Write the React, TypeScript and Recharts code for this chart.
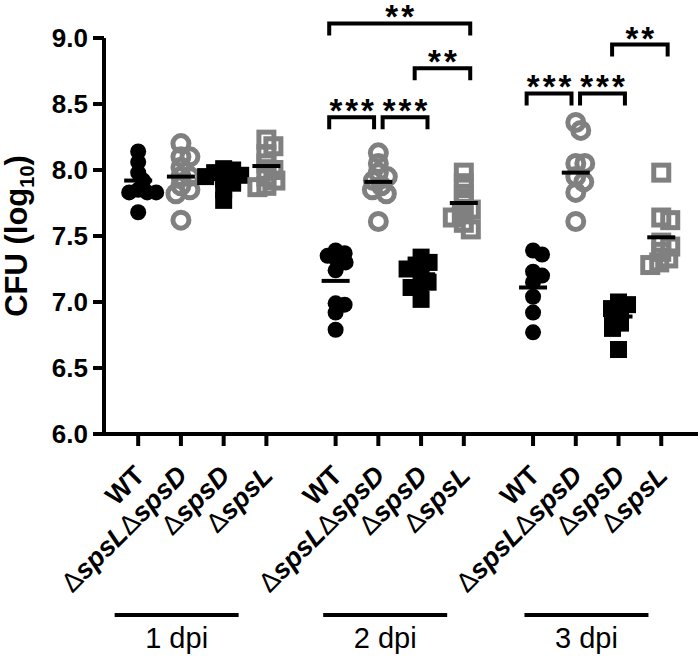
import React from 'react';
import { ScatterChart, Scatter, XAxis, YAxis, ReferenceLine, ReferenceDot } from 'recharts';

// ---------- data ----------
const strains = ['WT', 'ΔspsLΔspsD', 'ΔspsD', 'ΔspsL'];
const timepoints = ['1 dpi', '2 dpi', '3 dpi'];
const yTicks = [6.0, 6.5, 7.0, 7.5, 8.0, 8.5, 9.0];

// CFU (log10) per strain, one list per time point
const wtValues = [
  [8.14, 8.06, 7.98, 7.92, 7.85, 7.83, 7.83, 7.83, 7.68],
  [7.39, 7.37, 7.35, 7.32, 7.30, 7.24, 6.99, 6.98, 6.92, 6.79],
  [7.39, 7.36, 7.23, 7.20, 7.15, 7.04, 6.92, 6.77],
];
const dkoValues = [
  [8.20, 8.10, 8.10, 8.02, 7.95, 7.95, 7.88, 7.85, 7.82, 7.62],
  [8.13, 8.05, 7.98, 7.95, 7.92, 7.88, 7.85, 7.82, 7.61],
  [8.36, 8.30, 8.05, 8.05, 7.95, 7.91, 7.83, 7.61],
];
const spsDValues = [
  [8.01, 8.00, 7.98, 7.96, 7.95, 7.93, 7.90, 7.85, 7.77],
  [7.34, 7.30, 7.28, 7.25, 7.20, 7.15, 7.11, 7.11, 7.02],
  [7.00, 6.98, 6.95, 6.92, 6.88, 6.84, 6.80, 6.64],
];
const spsLValues = [
  [8.23, 8.18, 8.12, 8.05, 8.00, 7.95, 7.92, 7.88, 7.87],
  [7.98, 7.90, 7.82, 7.75, 7.70, 7.67, 7.64, 7.60, 7.55],
  [7.98, 7.64, 7.62, 7.45, 7.42, 7.38, 7.33, 7.30, 7.28],
];

// group means (horizontal bars)
const wtMeans = [7.92, 7.16, 7.11];
const dkoMeans = [7.95, 7.91, 7.98];
const spsDMeans = [7.94, 7.21, 6.89];
const spsLMeans = [8.03, 7.75, 7.49];

// significance comparisons: time point, strain indices, bracket level, label
const compGroup = [1, 1, 1, 1, 2, 2, 2];
const compFrom = [0, 1, 2, 0, 0, 1, 2];
const compTo = [1, 2, 3, 3, 1, 2, 3];
const compLevel = [8.40, 8.40, 8.77, 9.11, 8.58, 8.58, 8.95];
const compLabel = ['***', '***', '**', '**', '***', '***', '**'];

// ---------- layout constants ----------
const FONT = '"Liberation Sans", Arial, Helvetica, sans-serif';
const GREY = '#808080';
const W = 700;
const H = 661;
const GROUP_STEP = 4.62;
const X_DOMAIN: [number, number] = [-0.8, 13.1];
const PLOT_LEFT = 104;
const PLOT_RIGHT = 698;
const PLOT_TOP = 38;
const PLOT_BOTTOM = 434;
const PX_PER_X = (PLOT_RIGHT - PLOT_LEFT) / (X_DOMAIN[1] - X_DOMAIN[0]);
const PX_PER_Y = (PLOT_BOTTOM - PLOT_TOP) / (9 - 6);
const groupLabelX = [0.9, 5.78, 10.49];

const valuesByStrain = [wtValues, dkoValues, spsDValues, spsLValues];
const meansByStrain = [wtMeans, dkoMeans, spsDMeans, spsLMeans];

const pos = (g: number, s: number) => g * GROUP_STEP + s;
const tickPositions = timepoints.flatMap((_, g) => strains.map((__, s) => pos(g, s)));

// simple beeswarm (Prism-like scatter spreading), in pixels
function swarm(values: number[], minDist = 9): number[] {
  const order = values.map((v, i) => i).sort((a, b) => values[b] - values[a]);
  const placed: { x: number; y: number }[] = [];
  const offs = new Array(values.length).fill(0);
  for (const i of order) {
    const y = values[i] * PX_PER_Y;
    let chosen = 0;
    for (let k = 0; k < 200; k++) {
      const c = k === 0 ? 0 : (k % 2 === 1 ? 1 : -1) * Math.ceil(k / 2);
      if (placed.every((p) => Math.hypot(p.x - c, p.y - y) >= minDist)) {
        chosen = c;
        break;
      }
    }
    placed.push({ x: chosen, y });
    offs[i] = chosen;
  }
  return offs;
}

const seriesData = strains.map((_, s) =>
  timepoints.flatMap((__, g) => {
    const vals = valuesByStrain[s][g];
    const offs = swarm(vals);
    return vals.map((v, i) => ({ x: pos(g, s) + offs[i] / PX_PER_X, y: v }));
  })
);
const meanData = strains.flatMap((_, s) =>
  timepoints.map((__, g) => ({ x: pos(g, s), y: meansByStrain[s][g] }))
);

// bracket end positions (in category units) derived from the comparison lists
const bracketEnds = compGroup.map((g, i) => {
  const sharesLeft = compGroup.some(
    (g2, j) => j !== i && g2 === g && compLevel[j] === compLevel[i] && compTo[j] === compFrom[i]
  );
  const sharesRight = compGroup.some(
    (g2, j) => j !== i && g2 === g && compLevel[j] === compLevel[i] && compFrom[j] === compTo[i]
  );
  return [
    pos(g, compFrom[i]) - 0.15 + (sharesLeft ? 0.25 : 0),
    pos(g, compTo[i]) + 0.15 - (sharesRight ? 0.25 : 0),
  ];
});

// ---------- marks ----------
const shapes = [
  (p: any) => <circle cx={p.cx} cy={p.cy} r={8} fill="#000" />,
  (p: any) => <circle cx={p.cx} cy={p.cy} r={8} fill="none" stroke={GREY} strokeWidth={5} />,
  (p: any) => <rect x={p.cx - 8.5} y={p.cy - 8.5} width={17} height={17} fill="#000" />,
  (p: any) => (
    <rect x={p.cx - 7.5} y={p.cy - 7.5} width={15} height={15} fill="none" stroke={GREY} strokeWidth={5} />
  ),
];
const meanShape = (p: any) => (
  <line x1={p.cx - 14} x2={p.cx + 14} y1={p.cy} y2={p.cy} stroke="#000" strokeWidth={4} />
);

const bracketShape = (p: any) => (
  <path
    d={`M${p.x1},${p.y1 + 12} L${p.x1},${p.y1} L${p.x2},${p.y2} L${p.x2},${p.y2 + 12}`}
    fill="none"
    stroke="#000"
    strokeWidth={4}
  />
);

const StrainTick = (props: any) => {
  const { x, y, payload } = props;
  const idx = tickPositions.findIndex((t) => Math.abs(t - payload.value) < 1e-6);
  const label = strains[(idx < 0 ? 0 : idx) % 4];
  const ax = x + 8;
  const ay = y + 31;
  const parts = label.split(/(Δ)/).filter(Boolean);
  return (
    <text
      x={ax}
      y={ay}
      transform={`rotate(-45, ${ax}, ${ay})`}
      textAnchor="end"
      fontFamily={FONT}
      fontSize={27}
      fontWeight="bold"
      fill="#000"
    >
      {parts.map((p, i) =>
        p === 'Δ' ? (
          <tspan key={i} fontWeight="normal">Δ</tspan>
        ) : (
          <tspan key={i} fontStyle={p === 'WT' ? 'normal' : 'italic'}>{p}</tspan>
        )
      )}
    </text>
  );
};

const GroupTick = (props: any) => {
  const { x, y, index } = props;
  const half = 62;
  return (
    <g>
      <line x1={x - half} x2={x + half} y1={y + 31} y2={y + 31} stroke="#000" strokeWidth={4} />
      <text x={x} y={y + 64} textAnchor="middle" fontFamily={FONT} fontSize={29} fill="#000">
        {timepoints[index]}
      </text>
    </g>
  );
};

const YLabel = (props: any) => {
  const vb = props.viewBox || { x: 44, y: PLOT_TOP, height: PLOT_BOTTOM - PLOT_TOP };
  const cx = vb.x - 17;
  const cy = vb.y + vb.height / 2;
  return (
    <text
      transform={`translate(${cx},${cy}) rotate(-90)`}
      textAnchor="middle"
      fontFamily={FONT}
      fontWeight="bold"
      fontSize={31}
      fill="#000"
    >
      CFU (log
      <tspan fontSize={20} dy={7}>10</tspan>
      <tspan dy={-7}>)</tspan>
    </text>
  );
};

export default function App() {
  const LS = 3;
  return (
    <div style={{ position: 'absolute', left: 0, top: 0, width: W, height: H, background: '#fff' }}>
      <ScatterChart
        width={W}
        height={H}
        margin={{ top: PLOT_TOP, right: W - PLOT_RIGHT, bottom: 0, left: PLOT_LEFT - 60 }}
      >
        <XAxis
          type="number"
          dataKey="x"
          domain={X_DOMAIN}
          allowDataOverflow
          ticks={tickPositions}
          interval={0}
          height={150}
          tickSize={12}
          tickMargin={0}
          axisLine={{ stroke: '#000', strokeWidth: 4 }}
          tickLine={{ stroke: '#000', strokeWidth: 4 }}
          tick={<StrainTick />}
        />
        <XAxis
          xAxisId="grp"
          type="number"
          dataKey="x"
          domain={X_DOMAIN}
          allowDataOverflow
          ticks={groupLabelX}
          interval={0}
          height={77}
          tickSize={0}
          tickMargin={0}
          axisLine={false}
          tickLine={false}
          tick={<GroupTick />}
        />
        <YAxis
          type="number"
          dataKey="y"
          domain={[6, 9]}
          allowDataOverflow
          ticks={yTicks}
          interval={0}
          width={60}
          tickSize={11}
          tickMargin={5}
          tickFormatter={(v: number) => v.toFixed(1)}
          axisLine={{ stroke: '#000', strokeWidth: 4 }}
          tickLine={{ stroke: '#000', strokeWidth: 4 }}
          tick={{ fontSize: 26, fontWeight: 'bold', fill: '#000', fontFamily: FONT }}
          label={<YLabel />}
        />
        {seriesData.map((d, s) => (
          <Scatter
            key={strains[s]}
            name={strains[s]}
            data={d}
            shape={shapes[s]}
            isAnimationActive={false}
          />
        ))}
        <Scatter name="mean" data={meanData} shape={meanShape} isAnimationActive={false} />
        {bracketEnds.map(([x1, x2], i) => (
          <ReferenceLine
            key={'b' + i}
            segment={[
              { x: x1, y: compLevel[i] },
              { x: x2, y: compLevel[i] },
            ]}
            ifOverflow="visible"
            shape={bracketShape}
          />
        ))}
        {bracketEnds.map(([x1, x2], i) => (
          <ReferenceDot
            key={'t' + i}
            x={(x1 + x2) / 2}
            y={compLevel[i]}
            ifOverflow="visible"
            shape={(p: any) => (
              <text
                x={p.cx + LS / 2}
                y={p.cy + 5}
                textAnchor="middle"
                fontFamily={FONT}
                fontSize={33}
                fontWeight="bold"
                letterSpacing={LS}
                fill="#000"
              >
                {compLabel[i]}
              </text>
            )}
          />
        ))}
      </ScatterChart>
    </div>
  );
}
